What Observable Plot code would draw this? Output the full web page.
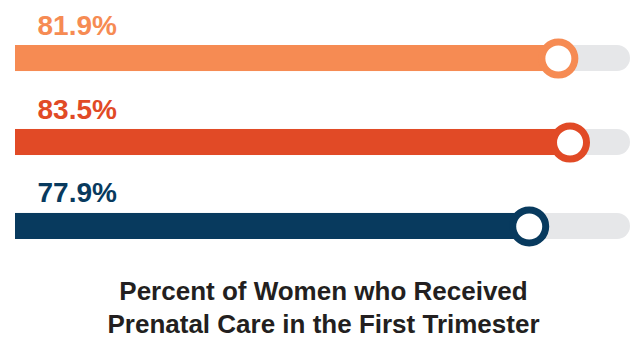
<!DOCTYPE html>
<html>
<head>
<meta charset="utf-8">
<script src="https://cdn.jsdelivr.net/npm/d3@7"></script>
<script src="https://cdn.jsdelivr.net/npm/@observablehq/plot@0.6"></script>
<style>
  html, body { margin: 0; padding: 0; background: #fff; }
  #chart svg { display: block; }
  #title {
    font-family: "Liberation Sans", Arial, sans-serif;
    font-weight: bold;
    font-size: 26px;
    line-height: 33px;
    color: #231f20;
    text-align: center;
    padding-left: 10px;
    width: 637px;
    box-sizing: border-box;
  }
</style>
</head>
<body>
<div id="chart"></div>
<div id="title">Percent of Women who Received<br>Prenatal Care in the First Trimester</div>
<script>
const groups = ["Group 1", "Group 2", "Group 3"];
const values = [81.9, 83.5, 77.9];
const labels = ["81.9%", "83.5%", "77.9%"];
const colors = ["#f68b53", "#e14a26", "#083a5e"];
const trackColor = "#e6e7e9";
const xDomain = [7.4, 91.8];

const data = groups.map((g, i) => ({group: g, value: values[i], label: labels[i]}));

const plot = Plot.plot({
  width: 637,
  height: 275,
  margin: 0,
  x: {domain: xDomain, range: [15, 630], axis: null},
  y: {type: "band", domain: groups, range: [45, 239], paddingInner: 0.69, paddingOuter: 0, round: false, axis: null},
  color: {domain: groups, range: colors},
  marks: [
    Plot.barX(data, {y: "group", x1: xDomain[0], x2: xDomain[1], fill: trackColor, rx: 13}),
    Plot.barX(data, {y: "group", x1: xDomain[0], x2: "value", fill: "group"}),
    Plot.dot(data, {y: "group", x: "value", r: 16.5, fill: "white", stroke: "group", strokeWidth: 7}),
    Plot.text(data, {
      y: "group", x: xDomain[0], text: "label", fill: "group",
      textAnchor: "start", lineAnchor: "bottom", dx: 22, dy: -24,
      fontSize: 28, fontWeight: "bold", fontFamily: "Liberation Sans, Arial, sans-serif"
    })
  ]
});
document.getElementById("chart").appendChild(plot);
</script>
</body>
</html>
